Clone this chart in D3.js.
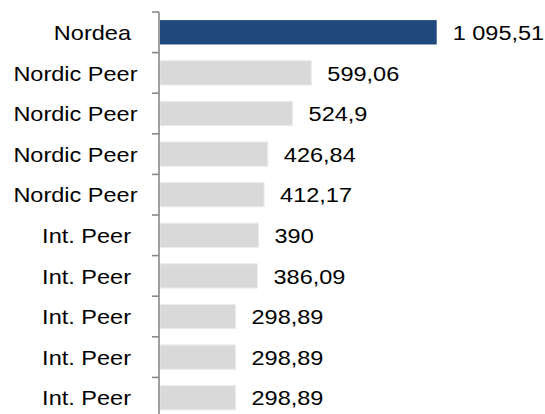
<!DOCTYPE html>
<html lang="en">
<head>
<meta charset="utf-8">
<title></title>
<script src="https://cdnjs.cloudflare.com/ajax/libs/d3/7.8.5/d3.min.js"></script>
<style>
  body { margin: 0; background: #fff; }
  text { font-family: "Liberation Sans", Arial, sans-serif; font-size: 21px; fill: #000; white-space: pre; }
</style>
</head>
<body>
<svg width="545" height="414"></svg>
<script>
// trailing spaces kept on purpose: the labels sit that way in the original
var categories = ['Nordea ', 'Nordic Peer', 'Nordic Peer', 'Nordic Peer', 'Nordic Peer',
                  'Int. Peer ', 'Int. Peer ', 'Int. Peer ', 'Int. Peer ', 'Int. Peer '];
var values = [1095.51, 599.06, 524.9, 426.84, 412.17, 390, 386.09, 298.89, 298.89, 298.89];
var valueLabels = ['1 095,51', '599,06', '524,9', '426,84', '412,17', '390', '386,09', '298,89', '298,89', '298,89'];

var svg = d3.select('svg');
var idx = d3.range(categories.length);

var x = d3.scaleLinear().domain([0, 1095.51]).range([160, 436.7]);

// one row per category, ticks sit on the row edges
var rows = d3.scaleBand().domain(idx).range([12, 12 + 40.6 * 10]);
var y = d3.scaleBand().domain(idx).range(rows.range())
    .paddingInner(0.4).paddingOuter(0.2);

svg.selectAll('rect.bar')
    .data(idx)
    .enter()
    .append('rect')
    .attr('class', 'bar')
    .attr('x', x(0))
    .attr('y', i => y(i))
    .attr('width', i => x(values[i]) - x(0))
    .attr('height', y.bandwidth())
    .style('fill', i => i === 0 ? '#1f497d' : '#d9d9d9')
    .style('stroke', i => i === 0 ? 'none' : '#ececec')
    .style('stroke-width', 1);

// axis line + ticks between categories
var axis = svg.append('g').style('stroke', '#898989').style('stroke-width', 1.6);
axis.append('line')
    .attr('x1', 159).attr('x2', 159)
    .attr('y1', rows.range()[0]).attr('y2', rows.range()[1]);
axis.selectAll('line.tick')
    .data(idx)
    .enter()
    .append('line')
    .attr('class', 'tick')
    .attr('x1', 152).attr('x2', 159)
    .attr('y1', i => rows(i)).attr('y2', i => rows(i));

var capHalf = 7.6;

svg.selectAll('text.cat')
    .data(idx)
    .enter()
    .append('text')
    .attr('class', 'cat')
    .attr('text-anchor', 'end')
    .attr('transform', i => 'translate(137.5,' + (y(i) + y.bandwidth() / 2 + capHalf) + ') scale(1.12,1)')
    .text(i => categories[i]);

svg.selectAll('text.val')
    .data(idx)
    .enter()
    .append('text')
    .attr('class', 'val')
    .attr('transform', i => 'translate(' + (x(values[i]) + 16) + ',' + (y(i) + y.bandwidth() / 2 + capHalf) + ') scale(1.12,1)')
    .text(i => valueLabels[i]);
</script>
</body>
</html>
